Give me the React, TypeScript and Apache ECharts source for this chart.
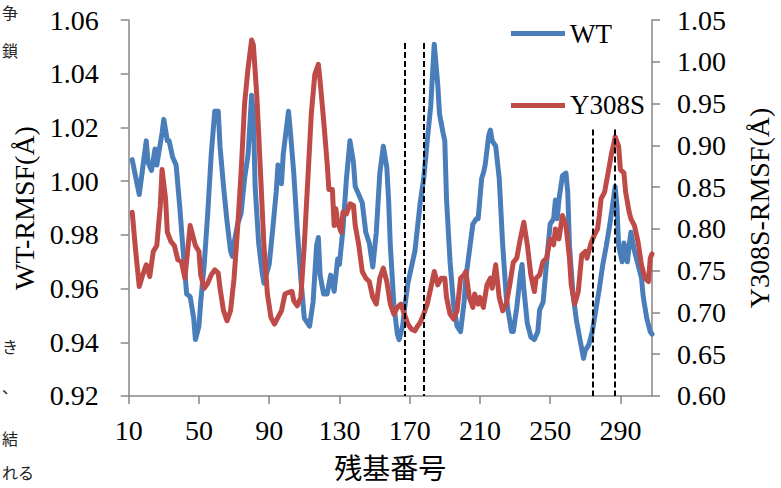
import React, { useEffect, useRef } from "react";
import * as echarts from "echarts";

const wtResidues = [12,16,20,21,23,25,26,29,30,32,33,35,37,39,41,43,45,47,48,50,51,53,55,57,59,61,62,64,66,68,69,70,72,74,76,78,80,81,82,84,86,87,90,92,94,95,97,98,101,102,104,106,108,110,112,113,115,117,118,119,121,123,125,127,129,130,132,134,136,138,139,141,143,145,147,149,151,153,155,157,158,159,161,163,164,166,167,169,171,173,174,176,178,180,182,184,186,187,189,190,191,193,195,197,199,201,202,204,206,208,209,211,212,213,215,216,217,219,221,223,225,226,228,229,231,233,234,235,237,239,241,243,244,246,248,250,252,253,254,255,257,259,260,261,263,265,267,269,270,272,274,276,278,280,282,284,286,287,288,289,291,292,294,295,296,298,300,302,303,305,307,308];
const wtValues = [1.008,0.995,1.015,1.007,1.004,1.012,1.006,1.018,1.023,1.015,1.015,1.009,1.006,0.991,0.974,0.958,0.957,0.949,0.941,0.946,0.955,0.969,0.988,1.010,1.026,1.026,1.013,0.998,0.985,0.974,0.972,0.977,0.984,0.988,1.001,1.010,1.032,1.025,0.998,0.977,0.966,0.962,0.969,0.982,0.996,1.006,0.999,1.010,1.026,1.019,1.003,0.982,0.964,0.949,0.947,0.946,0.955,0.976,0.979,0.965,0.958,0.958,0.965,0.959,0.971,0.969,0.982,1.001,1.015,1.007,0.998,0.995,0.992,0.981,0.977,0.968,0.981,1.003,1.013,1.005,0.993,0.976,0.954,0.943,0.941,0.946,0.952,0.962,0.968,0.974,0.980,0.992,1.001,1.015,1.028,1.051,1.036,1.025,1.018,1.015,0.993,0.970,0.954,0.946,0.944,0.955,0.964,0.974,0.984,0.986,0.986,1.001,1.003,1.006,1.017,1.019,1.015,1.013,1.001,0.976,0.957,0.952,0.944,0.944,0.953,0.965,0.969,0.960,0.947,0.942,0.941,0.944,0.952,0.955,0.970,0.984,0.986,0.993,0.986,0.993,1.002,1.003,0.996,0.976,0.958,0.948,0.941,0.934,0.937,0.939,0.944,0.952,0.960,0.969,0.976,0.984,0.993,0.998,0.991,0.976,0.970,0.977,0.970,0.976,0.981,0.974,0.969,0.964,0.957,0.949,0.944,0.943];

const mutResidues = [12,14,16,18,20,22,24,26,28,29,31,32,34,36,38,40,42,45,48,50,51,53,55,57,59,61,62,64,66,68,70,72,74,76,78,80,81,83,85,87,89,91,93,95,97,99,101,103,104,106,108,110,112,114,116,118,119,121,123,124,126,127,128,129,131,132,134,136,138,139,141,143,145,147,149,151,153,155,157,159,161,163,165,167,169,171,173,174,176,178,180,182,184,186,188,190,191,193,195,197,199,201,202,204,206,207,209,210,212,214,216,217,219,221,223,225,227,229,231,233,235,237,239,241,242,244,246,248,250,252,253,255,257,259,261,262,264,266,268,270,271,273,275,277,278,279,281,283,285,286,287,289,290,292,293,295,296,298,300,302,304,306,307,308];
const mutValues = [0.820,0.773,0.731,0.745,0.757,0.743,0.773,0.780,0.828,0.871,0.836,0.796,0.785,0.780,0.763,0.761,0.741,0.804,0.780,0.773,0.745,0.729,0.735,0.745,0.751,0.747,0.729,0.702,0.690,0.702,0.741,0.800,0.867,0.950,0.993,1.026,1.020,0.958,0.870,0.781,0.722,0.694,0.686,0.694,0.702,0.722,0.724,0.725,0.714,0.708,0.718,0.781,0.859,0.938,0.985,0.997,0.977,0.930,0.879,0.847,0.847,0.804,0.824,0.808,0.796,0.820,0.818,0.830,0.828,0.804,0.781,0.749,0.741,0.737,0.718,0.710,0.741,0.753,0.737,0.710,0.698,0.706,0.710,0.698,0.686,0.680,0.678,0.682,0.688,0.698,0.710,0.729,0.749,0.733,0.741,0.741,0.718,0.698,0.692,0.702,0.741,0.745,0.749,0.718,0.706,0.722,0.710,0.718,0.706,0.733,0.741,0.729,0.757,0.718,0.702,0.710,0.733,0.760,0.765,0.788,0.808,0.781,0.745,0.725,0.741,0.745,0.761,0.765,0.788,0.781,0.800,0.788,0.816,0.804,0.765,0.733,0.710,0.725,0.769,0.773,0.765,0.781,0.792,0.800,0.816,0.836,0.844,0.867,0.891,0.899,0.910,0.899,0.871,0.867,0.844,0.820,0.812,0.804,0.785,0.757,0.741,0.737,0.765,0.770];

const xTickValues = [10, 50, 90, 130, 170, 210, 250, 290];
const leftTicks = ["0.92", "0.94", "0.96", "0.98", "1.00", "1.02", "1.04", "1.06"];
const rightTicks = ["0.60", "0.65", "0.70", "0.75", "0.80", "0.85", "0.90", "0.95", "1.00", "1.05"];
const markerResidues = [167, 178, 274, 287];
const markerTops = [1.0514, 1.0514, 1.0192, 1.0192];
const seriesNames = ["WT", "Y308S"];
const sideTexts = [
  { t: "争", y: 4 },
  { t: "鎖", y: 42 },
  { t: "き", y: 338 },
  { t: "、", y: 378 },
  { t: "結", y: 430 },
  { t: "れる", y: 464 },
];

const SERIF = "Liberation Serif, Noto Sans CJK JP, serif";

export default function App() {
  const ref = useRef<HTMLDivElement>(null);
  useEffect(() => {
    if (!ref.current) return;
    const chart = echarts.init(ref.current, null, { renderer: "svg" });
    const axisGray = "#868686";
    const wtData = wtResidues.map((r, i) => [r, wtValues[i]]);
    const mutData = mutResidues.map((r, i) => [r, mutValues[i]]);
    const lMin = parseFloat(leftTicks[0]);
    const lMax = parseFloat(leftTicks[leftTicks.length - 1]);
    const rMin = parseFloat(rightTicks[0]);
    const rMax = parseFloat(rightTicks[rightTicks.length - 1]);
    chart.setOption({
      animation: false,
      backgroundColor: "#ffffff",
      grid: { left: 128.7, right: 127.7, top: 20, bottom: 86.7, containLabel: false },
      legend: {
        orient: "vertical",
        left: 506,
        top: 15,
        itemGap: 45,
        itemWidth: 54,
        itemHeight: 5,
        icon: "rect",
        data: seriesNames,
        textStyle: { fontFamily: SERIF, fontSize: 27, color: "#000" },
      },
      xAxis: {
        type: "value",
        min: 10,
        max: 308,
        name: "残基番号",
        nameLocation: "middle",
        nameGap: 59,
        nameTextStyle: { fontFamily: SERIF, fontSize: 28, color: "#000" },
        axisLine: { lineStyle: { color: axisGray, width: 1.5 } },
        axisTick: { show: true, length: 8, inside: false, customValues: xTickValues, lineStyle: { color: axisGray, width: 1.5 } },
        axisLabel: { customValues: xTickValues, margin: 20, fontFamily: SERIF, fontSize: 28, color: "#000" },
        splitLine: { show: false },
      },
      yAxis: [
        {
          type: "value",
          min: lMin,
          max: lMax,
          interval: 0.02,
          position: "left",
          name: "WT-RMSF(Å)",
          nameLocation: "middle",
          nameRotate: 90,
          nameGap: 90,
          nameTextStyle: { fontFamily: SERIF, fontSize: 28, color: "#000" },
          axisLine: { show: true, lineStyle: { color: axisGray, width: 1.5 } },
          axisTick: { show: true, length: 8, lineStyle: { color: axisGray, width: 1.5 } },
          axisLabel: {
            margin: 30,
            fontFamily: SERIF,
            fontSize: 28,
            color: "#000",
            formatter: (v: number) => leftTicks[Math.round((v - lMin) / 0.02)] ?? "",
          },
          splitLine: { show: false },
        },
        {
          type: "value",
          min: rMin,
          max: rMax,
          interval: 0.05,
          position: "right",
          name: "Y308S-RMSF(Å)",
          nameLocation: "middle",
          nameRotate: 90,
          nameGap: 93,
          nameTextStyle: { fontFamily: SERIF, fontSize: 28, color: "#000" },
          axisLine: { show: true, lineStyle: { color: axisGray, width: 1.5 } },
          axisTick: { show: true, length: 8, lineStyle: { color: axisGray, width: 1.5 } },
          axisLabel: {
            margin: 25,
            fontFamily: SERIF,
            fontSize: 28,
            color: "#000",
            formatter: (v: number) => rightTicks[Math.round((v - rMin) / 0.05)] ?? "",
          },
          splitLine: { show: false },
        },
      ],
      graphic: sideTexts.map((s) => ({
        type: "text",
        left: 2,
        top: s.y,
        style: { text: s.t, font: '16px "Noto Sans CJK JP"', fill: "#222" },
        silent: true,
      })),
      series: [
        {
          name: seriesNames[0],
          type: "line",
          yAxisIndex: 0,
          data: wtData,
          symbol: "none",
          color: "#4A7EBB",
          lineStyle: { width: 5, color: "#4A7EBB", cap: "round", join: "round" },
          markLine: {
            silent: true,
            symbol: ["none", "none"],
            label: { show: false },
            lineStyle: { color: "#000", type: [6, 3], width: 2 },
            data: markerResidues.map((r, i) => [
              { coord: [r, markerTops[i]] },
              { coord: [r, lMin] },
            ]),
          },
          z: 2,
        },
        {
          name: seriesNames[1],
          type: "line",
          yAxisIndex: 1,
          data: mutData,
          symbol: "none",
          color: "#BE4B48",
          lineStyle: { width: 5, color: "#BE4B48", cap: "round", join: "round" },
          z: 3,
        },
      ],
    });
    return () => chart.dispose();
  }, []);
  return <div ref={ref} style={{ width: 781, height: 488, position: "absolute", left: 0, top: 0 }} />;
}
